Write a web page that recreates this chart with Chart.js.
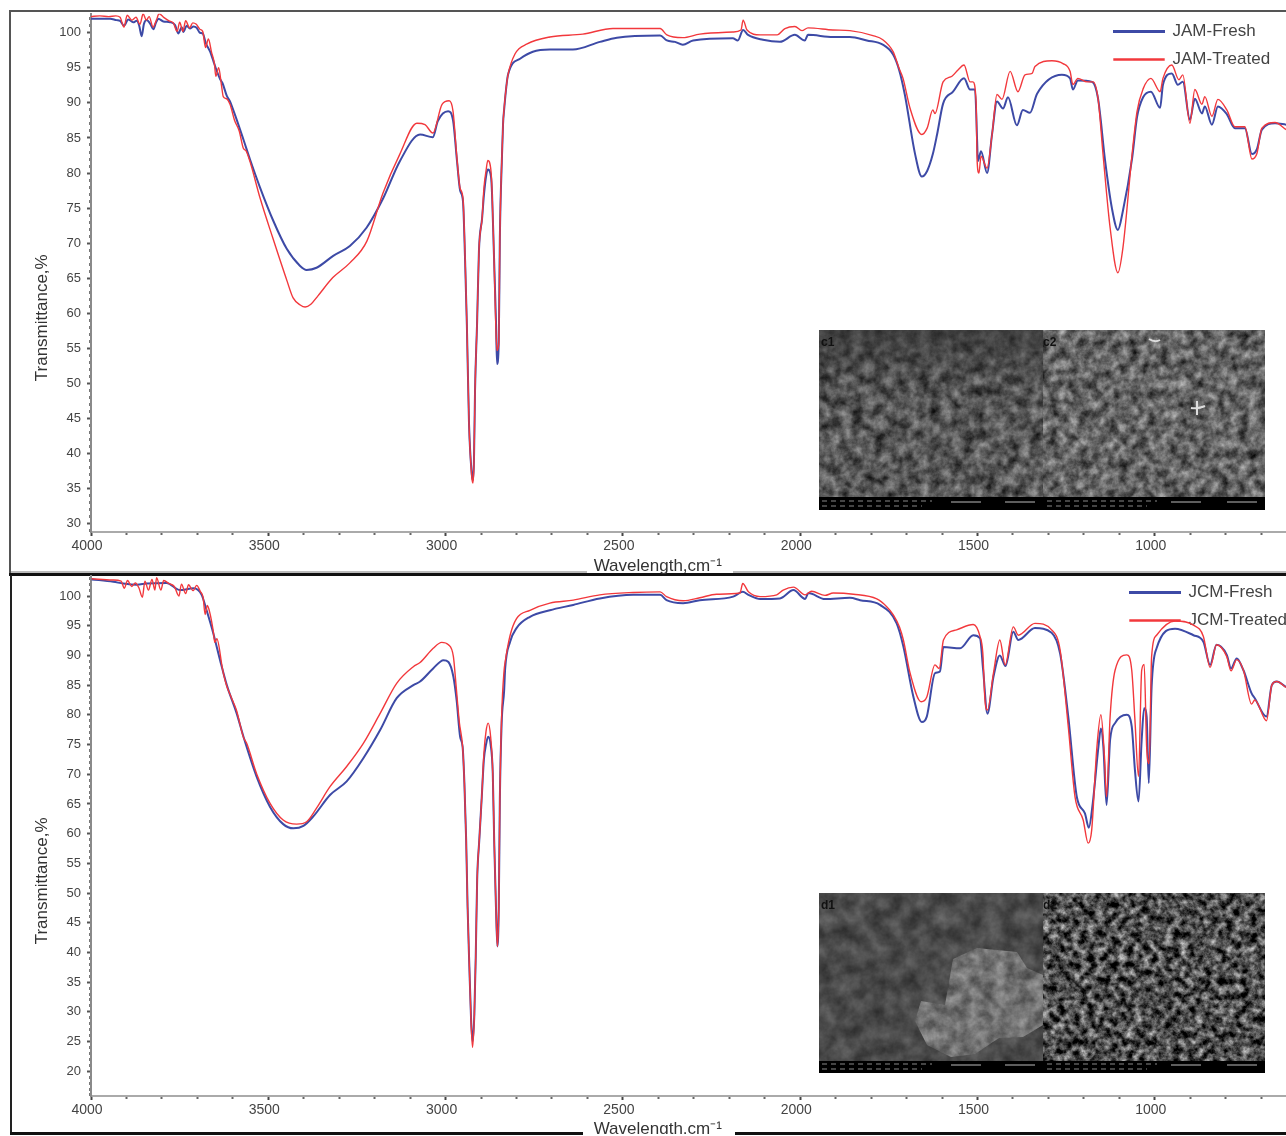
<!DOCTYPE html>
<html>
<head>
<meta charset="utf-8">
<title>FTIR spectra</title>
<script src="https://cdn.jsdelivr.net/npm/chart.js@4/dist/chart.umd.min.js"></script>
<style>
html,body{margin:0;padding:0;background:#fff;overflow:hidden;}
#page{position:relative;width:1286px;height:1136px;overflow:hidden;filter:blur(.45px);}
#page canvas{position:absolute;left:0;}
.rule{position:absolute;}
.sem{position:absolute;left:819px;}
</style>
</head>
<body>
<div id="page">
  <div class="rule" style="left:9px;top:10px;width:1277px;height:2px;background:#555"></div>
  <div class="rule" style="left:9px;top:10px;width:2px;height:565px;background:#555"></div>
  <div class="rule" style="left:11px;top:571px;width:576px;height:2px;background:#bbb"></div>
  <div class="rule" style="left:733px;top:571px;width:553px;height:2px;background:#bbb"></div>
  <div class="rule" style="left:9px;top:573px;width:1277px;height:3px;background:#111"></div>
  <div class="rule" style="left:10px;top:575px;width:2px;height:560px;background:#222"></div>
  <div class="rule" style="left:10px;top:1132px;width:573px;height:3px;background:#111"></div>
  <div class="rule" style="left:735px;top:1132px;width:551px;height:3px;background:#111"></div>

  <div style="position:absolute;left:0;top:0;width:1286px;height:580px"><canvas id="jamChart"></canvas></div>
  <div style="position:absolute;left:0;top:560px;width:1286px;height:574px"><canvas id="jcmChart"></canvas></div>

  <svg class="sem" style="top:330px" width="446" height="180" font-family="Liberation Sans">
    <defs>
      <filter id="c1f" x="0" y="0" width="100%" height="100%" color-interpolation-filters="sRGB"><feTurbulence type="fractalNoise" baseFrequency="0.09" numOctaves="4" seed="4"/><feColorMatrix values=".8 0 0 0 -.04 .8 0 0 0 -.04 .8 0 0 0 -.04 0 0 0 0 1"/></filter>
      <filter id="c2f" x="0" y="0" width="100%" height="100%" color-interpolation-filters="sRGB"><feTurbulence type="fractalNoise" baseFrequency="0.1" numOctaves="4" seed="9"/><feColorMatrix values=".8 0 0 0 -.01 .8 0 0 0 -.01 .8 0 0 0 -.01 0 0 0 0 1"/></filter>
      <linearGradient id="c1g" x1="0" y1="0" x2="0" y2="1"><stop offset="0" stop-color="#333" stop-opacity=".7"/><stop offset=".35" stop-color="#333" stop-opacity=".2"/><stop offset="1" stop-color="#333" stop-opacity=".05"/></linearGradient>
    </defs>
    <rect x="0" y="0" width="224" height="167" filter="url(#c1f)"/>
    <rect x="0" y="0" width="224" height="167" fill="url(#c1g)"/>
    <rect x="224" y="0" width="222" height="167" filter="url(#c2f)"/>
    <path d="M330 9q6 4 11 1M378 85l0-14M372 78q8 1 14-2" stroke="#ddd" stroke-width="2" fill="none"/>
    <rect x="0" y="167" width="446" height="13" fill="#000"/>
    <text x="2" y="16" font-size="12" font-weight="bold" fill="#111">c1</text>
    <text x="224" y="16" font-size="12" font-weight="bold" fill="#111">c2</text>
    <path d="M132 172h30M186 172h30M352 172h30M408 172h30" stroke="#bbb" stroke-width="1"/>
    <path d="M3 171h110M3 176h100M228 171h110M228 176h100" stroke="#888" stroke-width="1" stroke-dasharray="5 4"/>
  </svg>

  <svg class="sem" style="top:893px" width="446" height="180" font-family="Liberation Sans">
    <defs>
      <filter id="d1f" x="0" y="0" width="100%" height="100%" color-interpolation-filters="sRGB"><feTurbulence type="fractalNoise" baseFrequency="0.06" numOctaves="4" seed="2"/><feColorMatrix values=".3 0 0 0 .14 .3 0 0 0 .14 .3 0 0 0 .14 0 0 0 0 1"/></filter>
      <filter id="d1b" x="0" y="0" width="100%" height="100%" color-interpolation-filters="sRGB"><feTurbulence type="fractalNoise" baseFrequency="0.08" numOctaves="4" seed="5"/><feColorMatrix values=".45 0 0 0 .22 .45 0 0 0 .22 .45 0 0 0 .22 0 0 0 0 1"/><feComposite in2="SourceAlpha" operator="in"/></filter>
      <filter id="d2f" x="0" y="0" width="100%" height="100%" color-interpolation-filters="sRGB"><feTurbulence type="fractalNoise" baseFrequency="0.13" numOctaves="4" seed="7"/><feColorMatrix values="1.3 0 0 0 -.35 1.3 0 0 0 -.35 1.3 0 0 0 -.35 0 0 0 0 1"/></filter>
    </defs>
    <rect x="0" y="0" width="224" height="168" filter="url(#d1f)"/>
    <path d="M134 66l24-11 40 4 10 16 16 7v50l-20 12-24 1-24 16-24 3-24-12-12-24 6-20 24 4z" fill="#888" filter="url(#d1b)"/>
    <rect x="224" y="0" width="222" height="168" filter="url(#d2f)"/>
    <rect x="0" y="168" width="446" height="12" fill="#000"/>
    <text x="2" y="16" font-size="12" font-weight="bold" fill="#111">d1</text>
    <text x="224" y="16" font-size="12" font-weight="bold" fill="#111">d2</text>
    <path d="M132 172h30M186 172h30M352 172h30M408 172h30" stroke="#bbb" stroke-width="1"/>
    <path d="M3 171h110M3 176h100M228 171h110M228 176h100" stroke="#888" stroke-width="1" stroke-dasharray="5 4"/>
  </svg>
</div>

<script>
// wavenumber, transmittance pairs
const jamFresh=[[4000,102],[3975,102],[3946,102],[3928,101.8],[3918,101.7],[3907,101],[3895,101.9],[3881,101.5],[3871,101.7],[3864,101],[3857,99.5],[3851,101.2],[3843,101.8],[3832,101.2],[3824,100.5],[3817,101.4],[3810,102],[3796,101.6],[3777,101.5],[3763,101.1],[3754,99.9],[3744,100.8],[3740,100.1],[3730,101],[3721,100.6],[3711,100.9],[3702,100.7],[3693,100],[3685,99.9],[3676,98.5],[3664,97.3],[3655,96],[3647,94.8],[3636,93.4],[3629,92.8],[3617,91],[3608,90.2],[3599,89],[3587,87.3],[3569,84.6],[3552,82],[3523,77.9],[3486,73.2],[3448,69.2],[3411,66.8],[3392,66.2],[3364,66.5],[3317,68.2],[3270,69.6],[3223,72.2],[3176,76.4],[3129,81.7],[3072,85.5],[3036,85.1],[3022,87.4],[2993,88.8],[2979,87.5],[2968,81.8],[2959,77.5],[2951,76],[2945,67.5],[2940,58.3],[2934,44.3],[2926,37],[2923,36.2],[2920,39],[2917,49],[2911,59],[2906,68.9],[2897,73.6],[2892,76.8],[2886,79.5],[2881,80.5],[2872,79.5],[2869,77],[2864,68.9],[2858,59],[2855,52.8],[2850,56],[2847,70.7],[2841,82.4],[2838,87],[2835,89],[2824,94],[2790,96.3],[2754,97.3],[2706,97.6],[2641,97.6],[2565,98.7],[2517,99.3],[2395,99.6],[2376,98.9],[2353,98.7],[2331,98.3],[2302,98.9],[2190,99.2],[2176,98.9],[2161,100.4],[2147,99.7],[2105,99],[2057,98.7],[2015,99.7],[1987,98.9],[1978,99.7],[1908,99.4],[1860,99.4],[1812,98.9],[1767,98.3],[1738,96.9],[1721,94.7],[1705,91.2],[1676,82.7],[1657,79.5],[1642,80.3],[1626,82.7],[1614,85.5],[1597,89.9],[1569,91.6],[1538,93.5],[1521,91.9],[1507,91.9],[1501,84.5],[1499,81.7],[1490,83.1],[1473,80],[1459,85.5],[1445,90.2],[1428,89.2],[1414,90.8],[1389,86.8],[1372,89],[1352,88.6],[1332,91.3],[1262,94],[1239,93.5],[1231,91.9],[1217,93.2],[1177,93],[1160,90.6],[1140,81.7],[1121,75],[1104,71.9],[1090,74.6],[1064,82.1],[1050,88],[1033,90.8],[1011,91.6],[985,89.3],[977,92.6],[952,94.2],[935,92.6],[921,93],[901,87.6],[887,90.6],[867,88.5],[859,89.5],[839,86.9],[822,89.5],[797,88.4],[774,86.4],[746,86.4],[726,82.7],[712,83.4],[698,86.2],[661,87.1],[630,86.9]];
const jamTreated=[[4000,102.3],[3975,102.4],[3950,102.3],[3930,102.4],[3918,102.2],[3907,100.8],[3898,102.5],[3885,101.8],[3873,102.2],[3862,101.2],[3853,102.7],[3844,101.8],[3836,102.3],[3825,100.8],[3815,101.9],[3808,102.7],[3795,102.2],[3780,101.7],[3768,101.4],[3757,100.2],[3750,101.5],[3741,100.2],[3733,101.7],[3722,100.7],[3713,101.4],[3703,101.2],[3693,100.5],[3685,100.2],[3677,97.9],[3669,99.1],[3660,97.2],[3652,95.6],[3648,93.8],[3640,95],[3632,92.5],[3627,90.9],[3618,90.6],[3608,89.8],[3595,87.5],[3582,86],[3570,83.5],[3563,83.2],[3552,81.7],[3523,76.4],[3487,70.7],[3447,64.6],[3430,62.2],[3410,61.2],[3396,60.9],[3380,61.3],[3360,62.5],[3318,65.1],[3270,67.2],[3222,70.3],[3177,77.1],[3129,82.7],[3081,87.1],[3058,86.9],[3036,85.7],[3010,89.8],[2990,90.3],[2979,88.8],[2968,82.1],[2959,77.8],[2951,76.4],[2945,67.9],[2940,58.5],[2934,44.3],[2926,36.6],[2923,35.8],[2920,38.6],[2917,49],[2911,59],[2906,68.9],[2897,73.6],[2892,77.8],[2886,80.3],[2881,81.8],[2872,80.3],[2869,77.4],[2864,68.9],[2858,57.5],[2855,54.7],[2850,55.7],[2847,70.7],[2841,82.7],[2838,87],[2835,89.2],[2830,91.8],[2824,94],[2804,97],[2770,98.4],[2706,99.4],[2613,99.8],[2528,100.6],[2395,100.6],[2376,99.7],[2331,99.3],[2283,99.8],[2190,100.1],[2167,100.4],[2161,101.8],[2150,100.4],[2113,99.7],[2065,99.7],[2043,100.6],[2015,100.9],[1995,100.3],[1978,100.7],[1908,100.4],[1860,100.3],[1795,99.6],[1767,99],[1738,97.3],[1721,94.9],[1710,93.5],[1690,89.2],[1657,85.5],[1642,86.4],[1626,89],[1620,88.5],[1597,93],[1572,93.8],[1555,94.7],[1538,95.4],[1521,93],[1513,93],[1504,90.2],[1501,81.7],[1496,80],[1490,82.4],[1473,80.7],[1459,85.5],[1445,91.2],[1431,90.5],[1408,94.5],[1386,91.6],[1366,94],[1346,94.2],[1338,95.2],[1290,96],[1259,95.6],[1239,94.5],[1231,92.6],[1217,93.5],[1191,93],[1174,93],[1160,90.6],[1146,82.7],[1126,72.2],[1104,65.8],[1090,69.3],[1064,82.7],[1050,88.8],[1033,92],[1011,93.5],[985,91.6],[977,93.5],[952,95.4],[932,93.3],[921,94],[901,87.1],[887,91.9],[867,89.8],[859,90.9],[839,88.1],[822,90.5],[797,89],[774,86.6],[746,86.6],[726,82],[712,82.8],[698,86.4],[661,87.2],[630,86.2]];
const jcmFresh=[[3998,102.8],[3937,102.4],[3909,102.1],[3871,101.9],[3843,102.1],[3787,102.2],[3749,101],[3711,101.3],[3688,100.2],[3674,97.6],[3655,93.7],[3636,89.2],[3617,85],[3589,80.2],[3570,76.3],[3533,69.6],[3495,64.5],[3458,61.6],[3429,60.9],[3401,61.3],[3373,62.9],[3326,66.5],[3279,68.8],[3232,72.7],[3185,77.4],[3138,82.8],[3091,85],[3072,85.6],[3035,87.8],[3006,89.2],[2992,88.9],[2978,86.4],[2969,82.5],[2959,76.3],[2952,74.6],[2947,68.5],[2942,58.9],[2938,47.7],[2933,37.6],[2928,28.5],[2924,25],[2919,29.5],[2915,39.3],[2911,52.2],[2905,58.9],[2898,66.2],[2892,72.5],[2886,75],[2880,76.3],[2873,75],[2867,70.2],[2863,58.9],[2858,47.7],[2854,41],[2850,47.7],[2847,65.7],[2842,78.5],[2835,84],[2832,87.8],[2818,92.3],[2800,94.6],[2762,96.5],[2706,97.6],[2640,98.5],[2565,99.6],[2471,100.2],[2395,100.2],[2377,99.3],[2330,98.8],[2283,99.3],[2189,99.9],[2162,100.7],[2146,100.2],[2113,99.5],[2057,99.6],[2019,101],[1986,99.5],[1977,100.5],[1930,99.5],[1860,99.7],[1831,99.3],[1775,98.5],[1728,95.4],[1709,91.5],[1681,83.1],[1657,78.8],[1643,79.7],[1620,87],[1606,87.3],[1596,91.4],[1549,91.2],[1512,93.4],[1493,92.9],[1484,87.5],[1472,80.2],[1455,86.4],[1437,90],[1421,88.2],[1399,94],[1385,92.6],[1338,94.6],[1291,93.8],[1267,90.3],[1244,79.7],[1220,66.2],[1197,63.4],[1186,61],[1175,65.1],[1159,74.6],[1152,77.7],[1145,74.6],[1136,64.8],[1126,75.8],[1112,78.6],[1079,80],[1065,78],[1056,70.7],[1046,65.4],[1037,75.8],[1030,81.1],[1023,79.7],[1017,68.5],[1009,84.7],[995,91.2],[943,94.5],[891,93.4],[863,92.3],[844,88.4],[826,91.8],[797,90.1],[785,87.8],[769,89.5],[750,87.5],[727,83.6],[718,82.8],[685,79.7],[670,85],[656,85.6],[630,84.7]];
const jcmTreated=[[3998,102.9],[3940,102.7],[3915,102.5],[3906,101.3],[3897,102.6],[3885,101.6],[3875,102.2],[3865,101.4],[3855,99.8],[3848,102.5],[3838,101],[3828,102.8],[3820,101],[3815,103.1],[3803,101],[3795,102.6],[3780,102.1],[3765,101.6],[3752,100],[3745,102],[3733,100.4],[3725,101.9],[3712,100.9],[3702,101.8],[3692,100.8],[3684,99.8],[3678,96.9],[3672,98.4],[3665,97.2],[3655,94],[3651,92.2],[3645,92.8],[3630,88],[3626,86.8],[3617,84.8],[3605,83],[3590,80.8],[3570,76.2],[3561,75.2],[3533,70.1],[3495,65.1],[3458,62.3],[3420,61.6],[3392,62],[3364,64.3],[3326,67.9],[3279,71.3],[3232,75.2],[3185,80.2],[3138,85.3],[3091,88.1],[3072,88.8],[3035,91.2],[3011,92.2],[2992,91.8],[2978,89.8],[2971,85.3],[2961,78.6],[2952,74.6],[2947,68.5],[2942,58.9],[2938,47.7],[2933,37.6],[2928,28],[2924,24],[2919,29.2],[2915,39.3],[2911,52.2],[2905,58.9],[2898,66.2],[2892,73.5],[2886,77.2],[2880,78.6],[2873,76.3],[2867,70.2],[2863,58.9],[2858,47.7],[2854,41],[2850,47.7],[2847,65.7],[2842,79.7],[2835,87.5],[2832,88.9],[2818,93.4],[2800,96.2],[2762,97.6],[2706,98.8],[2640,99.3],[2565,100.2],[2471,100.6],[2395,100.7],[2377,99.9],[2330,99.2],[2283,99.7],[2236,100.3],[2170,100.5],[2162,102.1],[2146,100.7],[2113,99.9],[2066,100.2],[2048,101],[2019,101.5],[1986,100.2],[1968,100.8],[1930,100.1],[1907,100.5],[1850,100.3],[1784,99.5],[1756,98.2],[1737,96.8],[1720,94.8],[1709,92.6],[1690,87],[1659,82.2],[1643,83],[1620,88.4],[1608,87.8],[1596,92.6],[1559,94.3],[1512,95.2],[1493,93.2],[1485,90.4],[1479,82.5],[1472,80.8],[1455,87],[1437,92.6],[1422,88.4],[1399,94.8],[1385,93.4],[1338,95.4],[1291,94.3],[1267,90.9],[1244,78],[1225,66.2],[1202,62.3],[1188,58.4],[1178,60.6],[1164,74],[1152,80],[1142,73],[1136,66.2],[1126,79.7],[1112,87.5],[1079,90.1],[1065,87.5],[1056,79.1],[1046,69.6],[1037,87.5],[1030,88.5],[1023,74.6],[1016,71.8],[1009,89.8],[995,93.4],[943,95.8],[891,95.1],[863,93.2],[844,88],[826,91.8],[797,89.8],[785,87.4],[769,89.3],[750,87.5],[727,81.8],[718,82.5],[685,79],[670,85],[656,85.6],[630,84.6]];

const xLabels=[4000,3500,3000,2500,2000,1500,1000];
const jamYLabels=[100,95,90,85,80,75,70,65,60,55,50,45,40,35,30];
const jcmYLabels=[100,95,90,85,80,75,70,65,60,55,50,45,40,35,30,25,20];

const blue="#3d4aa6";
const red="#f2383c";
const textCol="#444";
const axisCol="#8a8a8a";
const pad=n=>" ".repeat(n);

function points(list){return list.map(p=>({x:p[0],y:p[1]}));}

function buildChart(id,cfg){
  const ctx=document.getElementById(id).getContext("2d");
  return new Chart(ctx,{
    type:"line",
    data:{datasets:[
      {label:cfg.names[0],data:points(cfg.fresh),borderColor:blue,backgroundColor:blue,borderWidth:2,order:2},
      {label:cfg.names[1],data:points(cfg.treated),borderColor:red,backgroundColor:red,borderWidth:1.4,order:1}
    ]},
    options:{
      responsive:true,maintainAspectRatio:false,animation:false,
      layout:{padding:{top:cfg.top,left:0,right:0,bottom:0}},
      elements:{point:{radius:0},line:{cubicInterpolationMode:"monotone"}},
      plugins:{
        tooltip:{enabled:false},
        legend:{
          position:"chartArea",align:"start",
          labels:{boxWidth:50,boxHeight:1,padding:11,color:textCol,font:{family:"Liberation Sans",size:17},
            sort:(a,b)=>a.datasetIndex-b.datasetIndex}
        }
      },
      scales:{
        x:{
          type:"linear",reverse:true,min:630,max:4000,
          afterFit:s=>{s.height=cfg.xHeight;},
          afterBuildTicks:s=>{
            const t=[];
            for(let v=4000;v>=700;v-=100) t.push({value:v,major:xLabels.includes(v)});
            s.ticks=t;
          },
          ticks:{autoSkip:false,maxRotation:0,labelOffset:-4,padding:2,color:textCol,font:{family:"Liberation Sans",size:14},
            callback:v=>xLabels.includes(v)?String(v):""},
          grid:{drawOnChartArea:false,tickLength:4,tickWidth:2,
            tickColor:c=>c.tick&&c.tick.major?"#444":"#666",
            tickBorderDash:c=>c.tick&&c.tick.major?[]:[2,2]},
          border:{color:"#aaa",width:2},
          title:{display:true,text:"Wavelength,cm⁻¹"+pad(13),color:"#333",font:{family:"Liberation Sans",size:17},padding:cfg.xTitlePad}
        },
        y:{
          min:cfg.yMin,max:cfg.yMax,
          afterFit:s=>{s.width=91;},
          afterBuildTicks:s=>{
            const t=[];
            for(let v=Math.ceil(cfg.yMin);v<=cfg.yMax;v++) t.push({value:v,major:cfg.yLabels.includes(v)});
            s.ticks=t;
          },
          ticks:{autoSkip:false,padding:6,color:textCol,font:{family:"Liberation Sans",size:13},
            callback:v=>cfg.yLabels.includes(v)?String(v):""},
          grid:{drawOnChartArea:false,tickLength:4,tickWidth:c=>c.tick&&c.tick.major?2:3,
            tickColor:c=>c.tick&&c.tick.major?"#555":"#777",
            tickBorderDash:c=>c.tick&&c.tick.major?[]:[2,2],tickBorderDashOffset:2},
          border:{color:axisCol,width:2},
          title:{display:true,text:"Transmittance,%"+pad(19),color:"#333",font:{family:"Liberation Sans",size:17},padding:{top:32,bottom:0}}
        }
      }
    },
    plugins:[{
      id:"legendSpot",
      afterLayout(chart){
        const l=chart.legend;
        l.left=cfg.legendLeft;l.top=cfg.legendTop;l.right=1286;l.bottom=chart.height;
      }
    }]
  });
}

buildChart("jamChart",{
  names:["JAM-Fresh","JAM-Treated"],fresh:jamFresh,treated:jamTreated,
  yLabels:jamYLabels,yMin:28.84,yMax:102.7,top:12,xHeight:48,xTitlePad:3,
  legendLeft:1103,legendTop:12
});
buildChart("jcmChart",{
  names:["JCM-Fresh","JCM-Treated"],fresh:jcmFresh,treated:jcmTreated,
  yLabels:jcmYLabels,yMin:15.83,yMax:103.37,top:16,xHeight:38,xTitlePad:-5.5,
  legendLeft:1119,legendTop:13
});
</script>
</body>
</html>
